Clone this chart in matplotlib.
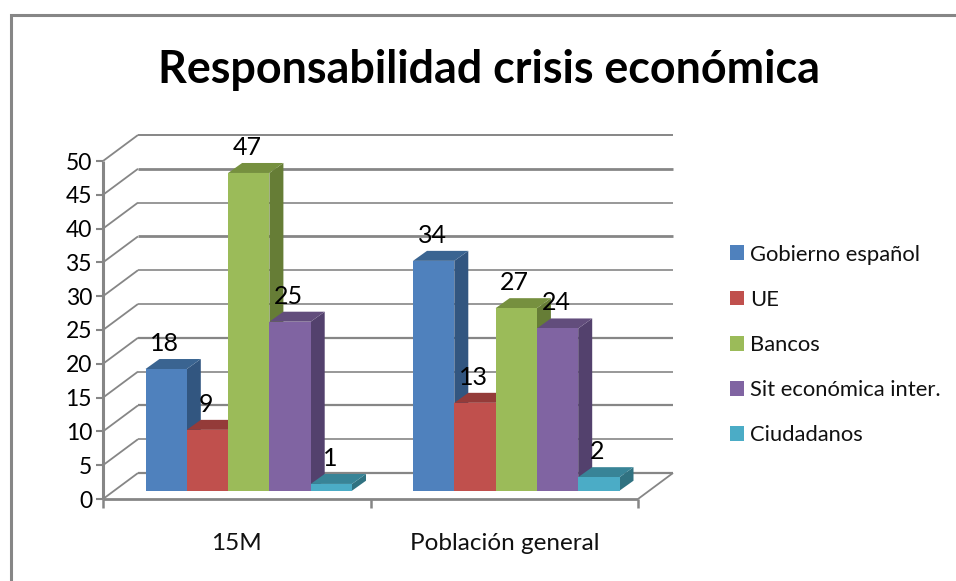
#!/usr/bin/env python

# Responsabilidad crisis economica, fake 3D columns like the office chart

import matplotlib
matplotlib.use('Agg')
import matplotlib.pyplot as plt
from matplotlib.lines import Line2D
from matplotlib.patches import Patch, Polygon

categories = ['15M', 'Población general']
series_names = ['Gobierno español', 'UE', 'Bancos', 'Sit económica inter.', 'Ciudadanos']
gobierno = [18, 34]
ue = [9, 13]
bancos = [47, 27]
sit_economica = [25, 24]
ciudadanos = [1, 2]
y_ticks = [0, 5, 10, 15, 20, 25, 30, 35, 40, 45, 50]
grid_widths = [1.6, 1.2, 1.6, 1.2, 1.6, 1.2, 1.2, 2.0, 1.2, 2.0, 1.4]

front = ['#4F81BD', '#C0504D', '#9BBB59', '#8064A2', '#4BACC6']
top = ['#3A6491', '#943B39', '#76903F', '#624D7C', '#388497']
side = ['#325680', '#80332F', '#667D36', '#53416D', '#307281']
grey = '#868686'

W, H = 956, 581
plt.rcParams['font.family'] = ['Lato', 'DejaVu Sans']

fig = plt.figure(figsize=(W / 100, H / 100), dpi=100)
# axes is the front plane of the 3D box
ax = fig.add_axes([103 / W, 1 - 499 / H, 535 / W, 338 / H])
ax.set_xlim(0, 2)
ax.set_ylim(0, 50)
ax.axis('off')

# pixel sizes of the projection turned into data units
px_x = 2 / 535
px_y = 50 / 338
wall_dx, wall_dy = 35 * px_x, 26 * px_y
base_dx, base_dy = 9 * px_x, 8.3 * px_y
bar_dx, bar_dy = 14 * px_x, 10 * px_y
bar_w = 41.3 * px_x
bar_start = 33.5 * px_x


def line(xs, ys, lw=1.5, z=1):
  ax.add_line(Line2D(xs, ys, color=grey, lw=lw, zorder=z, clip_on=False,
                     solid_capstyle='butt'))


# walls and gridlines
for val, lw in zip(y_ticks, grid_widths):
  line([0, wall_dx], [val, val + wall_dy], 1.3)
  line([wall_dx, 2 + wall_dx], [val + wall_dy, val + wall_dy], lw)
  line([-7 * px_x, 0], [val, val], 1.5)
line([2, 2 + wall_dx], [0, wall_dy], 1.3)

# axes lines on top of the floor
line([0, 0], [0, 50], 2.2, 2)
line([0, 2], [0, 0], 2.0, 2)
for i in range(3):
  line([i, i], [0, -9 * px_y], 1.8, 2)

# columns, left to right so each one hides the side of the one before
all_values = [gobierno, ue, bancos, sit_economica, ciudadanos]
for g in range(len(categories)):
  for s, values in enumerate(all_values):
    v = values[g]
    x0 = g + bar_start + base_dx + s * bar_w
    x1 = x0 + bar_w
    y0 = base_dy
    y1 = base_dy + v
    z = 3 + g * 10 + s
    ax.add_patch(Polygon([(x1, y0), (x1 + bar_dx, y0 + bar_dy), (x1 + bar_dx, y1 + bar_dy), (x1, y1)],
                         fc=side[s], ec='none', zorder=z, clip_on=False))
    ax.add_patch(Polygon([(x0, y1), (x1, y1), (x1 + bar_dx, y1 + bar_dy), (x0 + bar_dx, y1 + bar_dy)],
                         fc=top[s], ec='none', zorder=z, clip_on=False))
    ax.add_patch(Polygon([(x0, y0), (x1, y0), (x1, y1), (x0, y1)],
                         fc=front[s], ec='none', zorder=z, clip_on=False))
    ax.text(x0 + bar_w / 2 - 1.5 * px_x, y1 + 25.5 * px_y, str(v), ha='center', va='center',
            fontsize=18, color='black', zorder=50)

# tick labels
for val in y_ticks:
  ax.text(-11 * px_x, val - 2 * px_y, str(val), ha='right', va='center', fontsize=16.5, color='black')
for i, name in enumerate(categories):
  ax.text(i + 0.5, -44 * px_y, name, ha='center', va='center', fontsize=17.5, color='#111111')

fig.text(489 / W, 1 - 70 / H, 'Responsabilidad crisis económica', ha='center', va='center',
         fontsize=32.3, fontweight='bold', color='black')

handles = [Patch(fc=c, ec='none') for c in front]
fig.legend(handles, series_names, loc='center left', bbox_to_anchor=(730 / W, 1 - 345 / H),
           frameon=False, fontsize=15.8, handlelength=0.66, handleheight=0.66,
           handletextpad=0.27, labelspacing=1.15, borderpad=0, borderaxespad=0,
           labelcolor='#111111')

# outer frame of the chart
fig.add_artist(Line2D([10.5 / W, 10.5 / W, 1], [0, 1 - 15 / H, 1 - 15 / H], color=grey, lw=2.2,
                      solid_joinstyle='miter'))

fig.savefig('out.png', dpi=100, facecolor='white')
